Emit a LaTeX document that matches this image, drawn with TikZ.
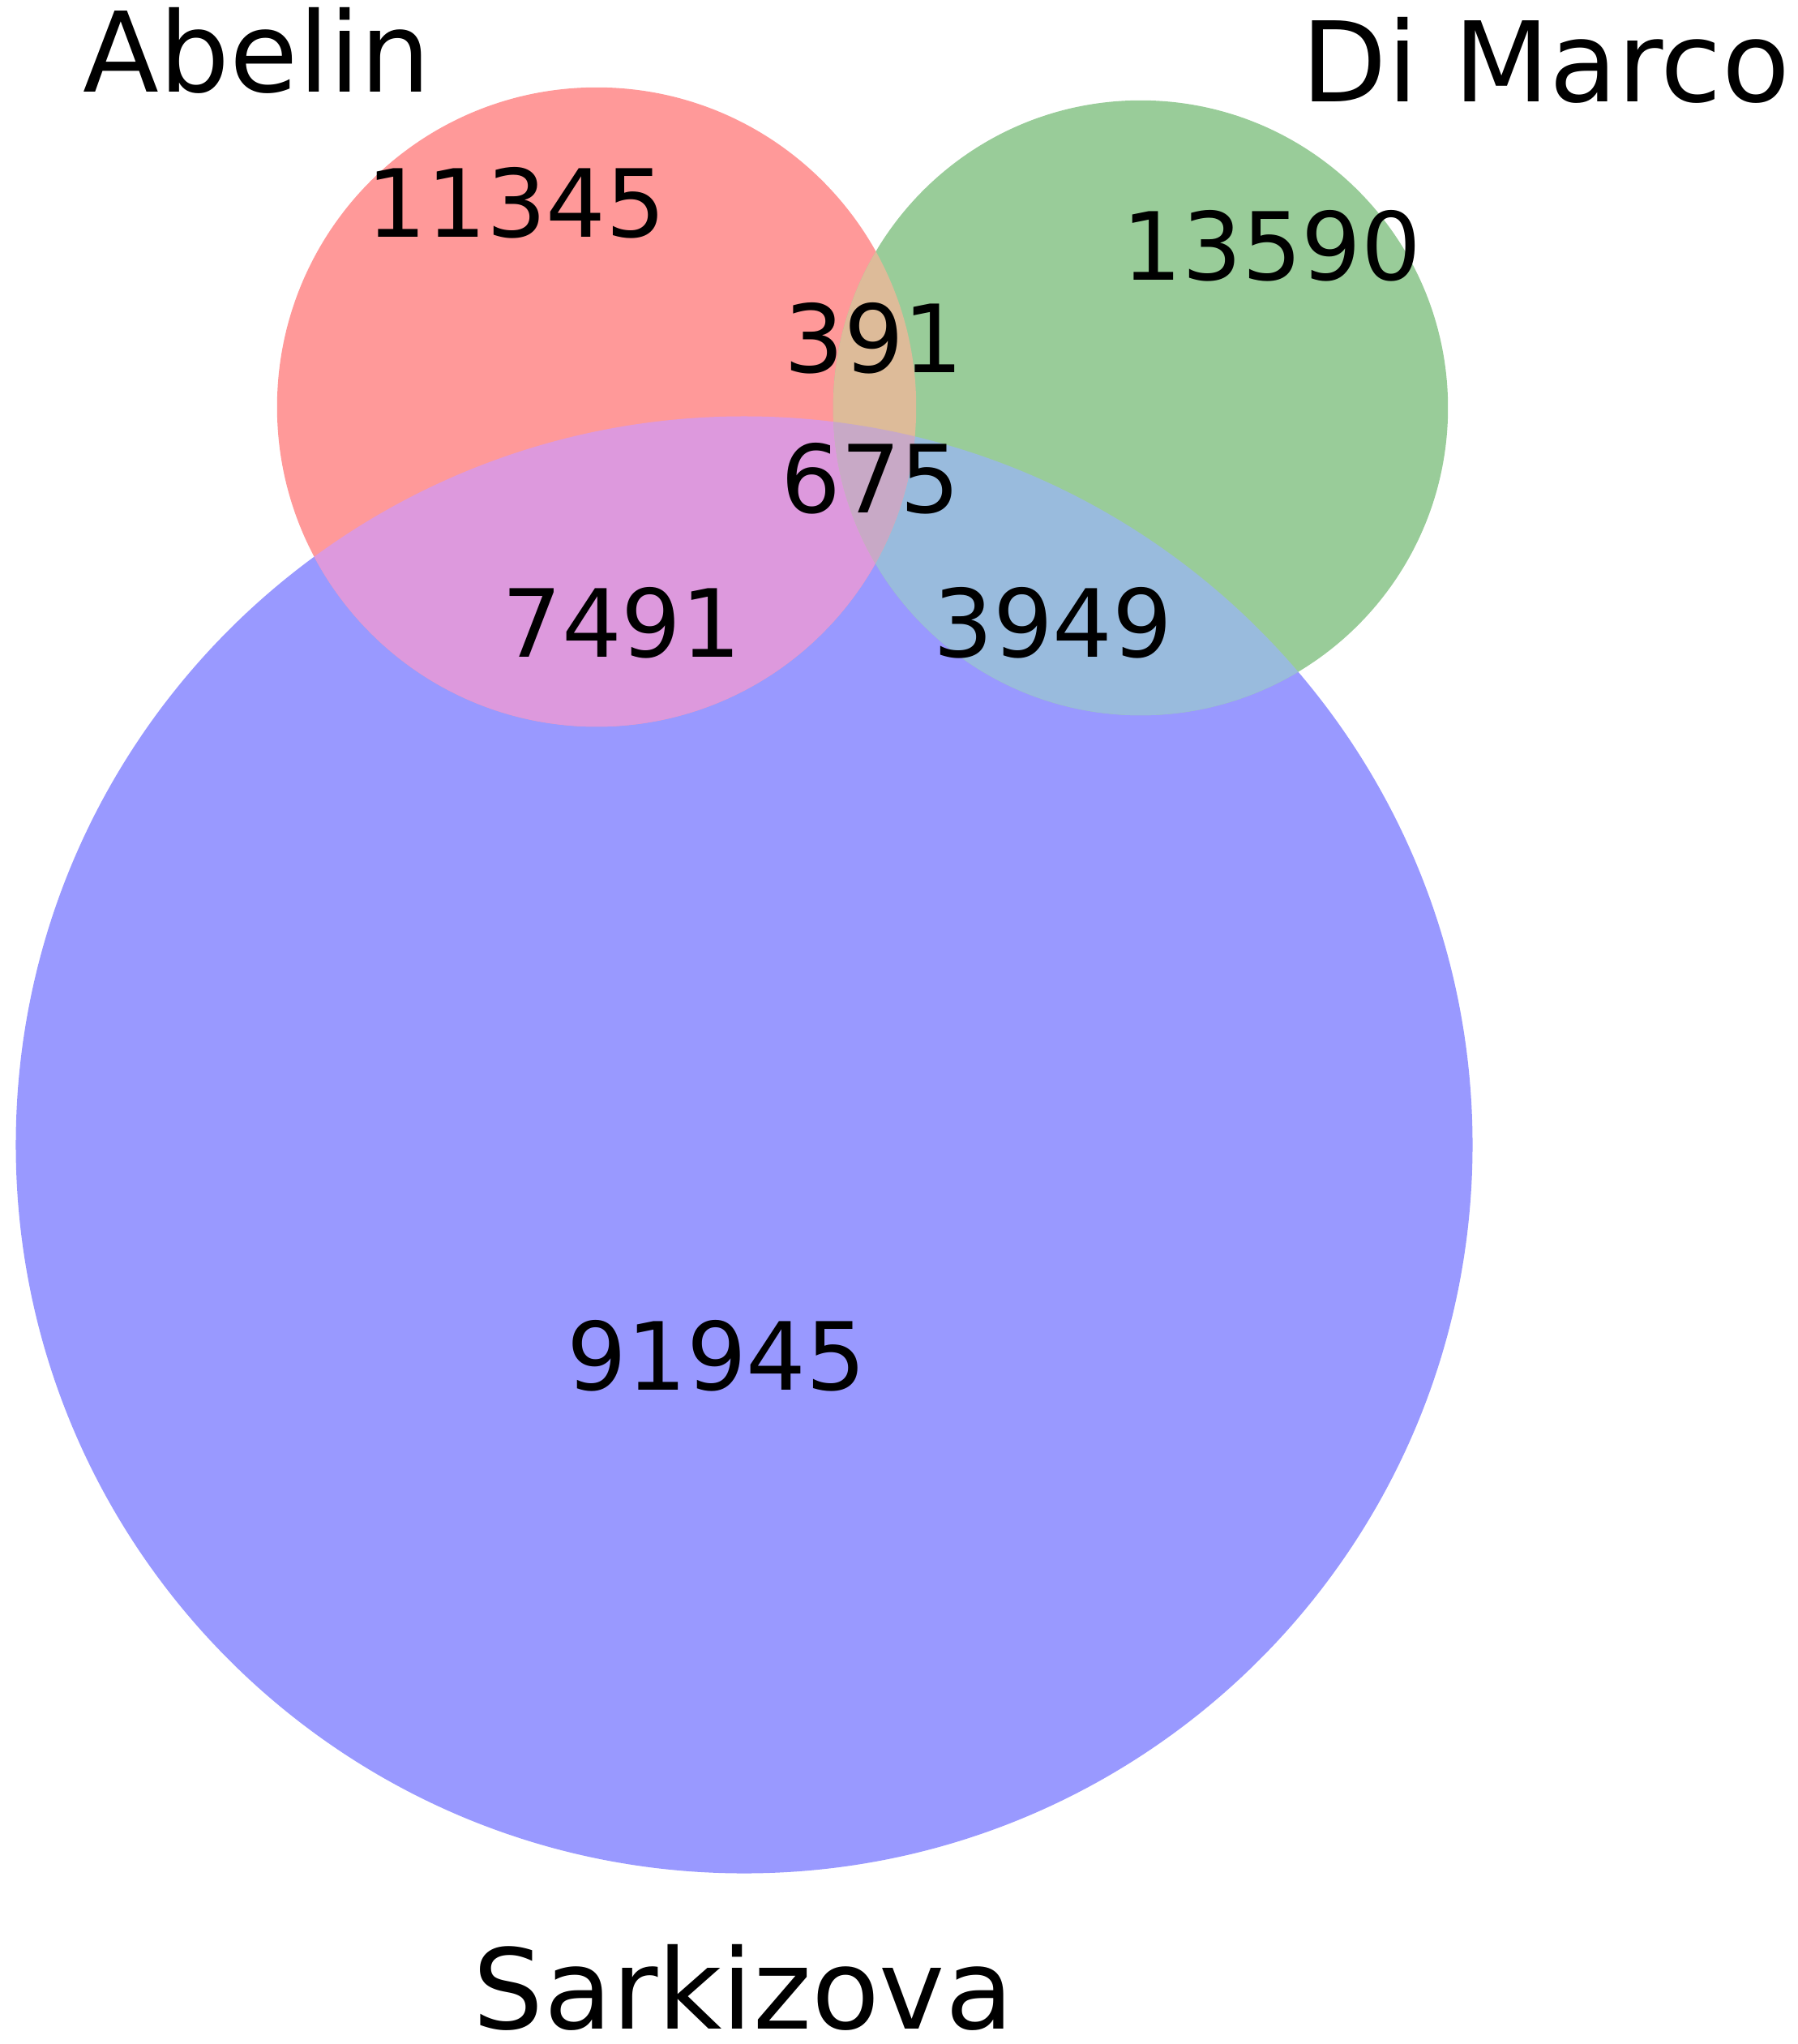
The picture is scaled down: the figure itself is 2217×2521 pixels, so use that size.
\documentclass[tikz,border=0pt]{standalone}
\usepackage{fontspec}
\setmainfont{DejaVu Sans}
\definecolor{cA}{HTML}{FF9999}
\definecolor{cD}{HTML}{99CC99}
\definecolor{cS}{HTML}{9999FF}
\definecolor{cAD}{HTML}{DDBB99}
\definecolor{cAS}{HTML}{DD99DD}
\definecolor{cDS}{HTML}{99BBDD}
\definecolor{cADS}{HTML}{C8A9C6}
\tikzset{
  num/.style={inner sep=0pt, anchor=base, font=\fontsize{33}{40}\selectfont},
  setlabel/.style={inner sep=0pt, anchor=base, font=\fontsize{39}{46}\selectfont},
}
\begin{document}
\begin{tikzpicture}[x=0.01cm,y=-0.01cm]
\path[use as bounding box] (0,0) rectangle (2217,2521);
\coordinate (cAb) at (736,502);
\coordinate (cDi) at (1407,503);
\coordinate (cSa) at (918,1412);
\def\circA{(cAb) circle[radius=3.94cm]}
\def\circD{(cDi) circle[radius=3.79cm]}
\def\circS{(cSa) circle[radius=8.98cm]}
% single sets
\fill[cS] \circS;
\fill[cA] \circA;
\fill[cD] \circD;
% pairwise
\begin{scope}\clip \circA; \fill[cAS] \circS; \end{scope}
\begin{scope}\clip \circD; \fill[cDS] \circS; \end{scope}
\begin{scope}\clip \circA; \fill[cAD] \circD; \end{scope}
% triple
\begin{scope}\clip \circA; \clip \circD; \fill[cADS] \circS; \end{scope}
% labels
\node[setlabel] (lA) at (317,113) {Abelin};
\node[setlabel] (lD) at (1907,125) {Di Marco};
\node[setlabel] (lS) at (917,2502) {Sarkizova};
% counts
\node[num] (n100) at (637,292) {11345};
\node[num] (n010) at (1569,345) {13590};
\node[num] (n110) at (1078,459) {391};
\node[num] (n111) at (1074,632) {675};
\node[num] (n101) at (767,810) {7491};
\node[num] (n011) at (1299,810) {3949};
\node[num] (n001) at (884,1714) {91945};
\end{tikzpicture}
\end{document}
